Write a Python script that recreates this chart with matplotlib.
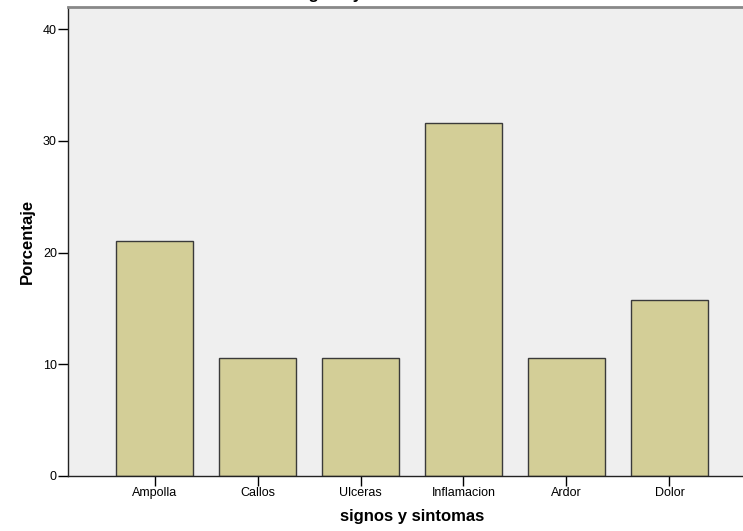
import matplotlib
matplotlib.use("Agg")
import matplotlib.pyplot as plt

categories = ["Ampolla", "Callos", "Ulceras", "Inflamacion", "Ardor", "Dolor"]
percent = [21.05, 10.53, 10.53, 31.58, 10.53, 15.79]
yticks = [0, 10, 20, 30, 40]

plt.rcParams['font.family'] = ['Liberation Sans', 'DejaVu Sans']

W, H = 743, 531
fig = plt.figure(figsize=(W / 100, H / 100), dpi=100)
fig.patch.set_facecolor("white")
ax = fig.add_axes([68 / W, 55 / H, (756 - 68) / W, (476 - 7) / H])
ax.set_facecolor("#EFEFEF")

x = list(range(len(categories)))
ax.bar(x, percent, width=0.75, color="#D3CE97", edgecolor="#3a3a3a", linewidth=1.0, zorder=2)

ax.set_xlim(-0.84, len(categories) - 1 + 0.84)
ax.set_ylim(0, 41.97)
ax.set_yticks(yticks)
ax.set_xticks(x)
ax.set_xticklabels(categories, fontsize=9)
ax.tick_params(axis="y", labelsize=9, length=7, width=1, direction="out", pad=1)
ax.tick_params(axis="x", length=7, width=1, direction="out", pad=1)

for s in ["left", "bottom"]:
    ax.spines[s].set_color("#222222")
    ax.spines[s].set_linewidth(1.0)
ax.spines["top"].set_color("#888888")
ax.spines["top"].set_linewidth(2.0)
ax.spines["right"].set_visible(False)

ax.set_xlabel("signos y sintomas", fontsize=12, fontweight="bold", labelpad=7)
ax.set_ylabel("Porcentaje", fontsize=12, fontweight="bold", labelpad=6)

# title partially cut off by the top edge of the image (only descenders visible)
fig.text(367 / W, 1 + 1 / H, "signos y sintomas", fontsize=12, fontweight="bold",
         ha="center", va="baseline")

fig.savefig("out.png", dpi=100)
